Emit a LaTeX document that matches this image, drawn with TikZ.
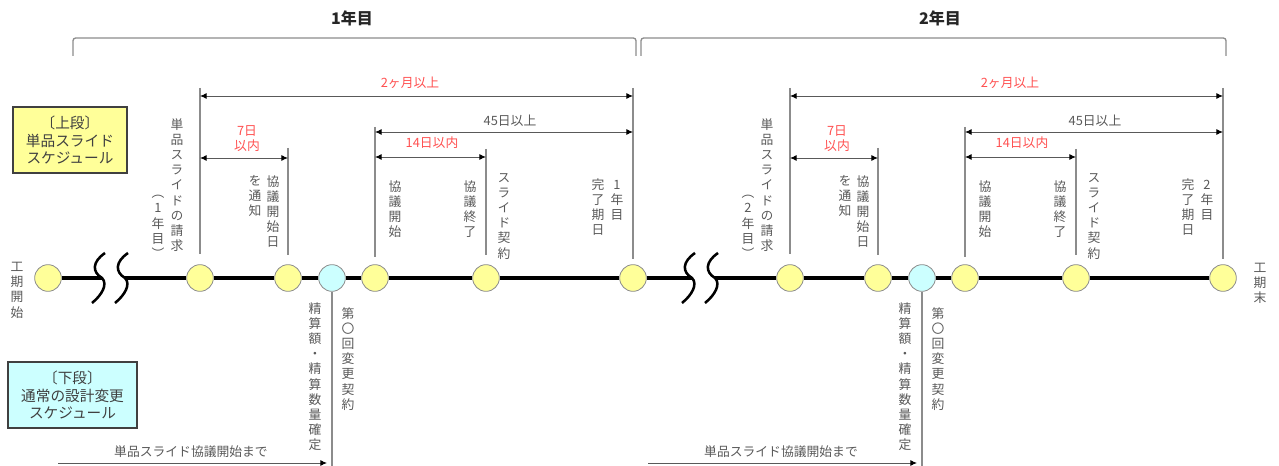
\documentclass[tikz,border=0pt]{standalone}
\usepackage{fontspec}
\setmainfont{Noto Sans CJK JP}
\newfontfamily\jp{Noto Sans CJK JP}
\newfontfamily\vjp[RawFeature=+vert]{Noto Sans CJK JP}
\usetikzlibrary{arrows.meta}
\definecolor{yel}{HTML}{FFFF99}
\definecolor{cya}{HTML}{CCFFFF}
\definecolor{txt}{HTML}{595959}
\definecolor{txtb}{HTML}{404040}
\definecolor{redl}{HTML}{FF5050}
\definecolor{vline}{HTML}{8C8C8C}
\definecolor{dimc}{HTML}{595959}
\definecolor{brkc}{HTML}{8C8C8C}
\ExplSyntaxOn
\NewDocumentCommand\vt{m}{
  \vbox{\baselineskip=11.4pt\relax\lineskiplimit=-100pt\relax\lineskip=0pt\relax
    \tl_map_inline:nn {#1}{\hbox_to_wd:nn {1em}{\hss ##1 \hss}}}
}
\ExplSyntaxOff
\tikzset{
  dot/.style={circle,draw=vline,line width=0.6pt,fill=yel,minimum size=20pt,inner sep=0pt},
  dotc/.style={dot,fill=cya},
  vlab/.style={font=\vjp\fontsize{9.6pt}{11.4pt}\selectfont,text=txt,inner sep=0pt,anchor=north},
  hlab/.style={font=\jp\fontsize{9.6pt}{11.4pt}\selectfont,text=txt,inner sep=0pt},
  rlab/.style={hlab,text=redl},
  vl/.style={draw=vline,line width=0.8pt},
  dimarr/.style={draw=dimc,line width=0.7pt,{Latex[length=5pt,width=4.5pt,black]}-{Latex[length=5pt,width=4.5pt,black]}},
  onearr/.style={draw=dimc,line width=0.7pt,-{Latex[length=5pt,width=4.5pt,black]}},
  tline/.style={draw=black,line width=3pt},
  sq/.style={draw=black,line width=1.9pt},
  brk/.style={draw=brkc,line width=1pt,rounded corners=2pt},
  ttl/.style={font=\jp\bfseries\fontsize{12pt}{14pt}\selectfont,text=black!85,inner sep=0pt},
  boxn/.style={draw=txtb,line width=1.1pt,align=center,font=\jp\fontsize{11pt}{13.4pt}\selectfont,text=txtb,inner sep=0pt,minimum height=49.5pt}
}
\begin{document}
\begin{tikzpicture}[x=0.75pt,y=-0.75pt]
\useasboundingbox (0,0) rectangle (1279,466);
% titles and brackets
\node[ttl] (y1) at (352,18) {1年目};
\node[ttl] (y2) at (940,18) {2年目};
\draw[brk] (73,56) -- (73,38) -- (636,38) -- (636,56);
\draw[brk] (641,56) -- (641,38) -- (1226,38) -- (1226,56);
% legend boxes
\node[boxn,fill=yel,minimum width=85.5pt] (bx1) at (70,140) {〔上段〕\\単品スライド\\スケジュール};
\node[boxn,fill=cya,minimum width=96.75pt] (bx2) at (72.5,395) {〔下段〕\\通常の設計変更\\スケジュール};
% start and end
\node[dot] (s0) at (48,278) {};
\node[vlab] (ls0) at (17,262) {\vt{工期開始}};
\node[vlab] (le) at (1260,263) {\vt{工期末}};
\foreach \yr/\dx/\tx/\ty in {1/0/410/510, 2/590/1010/1095} {
  % squiggles
  \coordinate (q\yr-1) at (\dx+102,278);
  \coordinate (q\yr-2) at (\dx+125,278);
  \draw[sq] (\dx+105,253) .. controls (\dx+92,262) and (\dx+92,272) .. (q\yr-1) .. controls (\dx+108,284) and (\dx+102,295) .. (\dx+92,303);
  \draw[sq] (\dx+128,253) .. controls (\dx+115,262) and (\dx+115,272) .. (q\yr-2) .. controls (\dx+131,284) and (\dx+125,295) .. (\dx+115,303);
  % milestones
  \node[dot] (c\yr-a) at (\dx+200,278) {};
  \node[dot] (c\yr-b) at (\dx+288,278) {};
  \node[dotc] (c\yr-m) at (\dx+332,278) {};
  \node[dot] (c\yr-c) at (\dx+375,278) {};
  \node[dot] (c\yr-d) at (\dx+486,278) {};
  \node[dot] (c\yr-e) at (\dx+633,278) {};
  \draw[tline] (q\yr-2) -- (c\yr-a) -- (c\yr-b) -- (c\yr-m) -- (c\yr-c) -- (c\yr-d) -- (c\yr-e);
  % vertical guide lines
  \coordinate (t\yr-a) at (\dx+200,88);  \coordinate (b\yr-a) at (\dx+200,254);
  \coordinate (t\yr-b) at (\dx+288,148); \coordinate (b\yr-b) at (\dx+288,255);
  \coordinate (t\yr-c) at (\dx+375,127); \coordinate (b\yr-c) at (\dx+375,257);
  \coordinate (t\yr-d) at (\dx+486,149); \coordinate (b\yr-d) at (\dx+486,255);
  \coordinate (t\yr-e) at (\dx+633,88);  \coordinate (b\yr-e) at (\dx+633,259);
  \coordinate (z\yr) at (\dx+332,470);
  \draw[vl] (t\yr-a) -- (b\yr-a);
  \draw[vl] (t\yr-b) -- (b\yr-b);
  \draw[vl] (t\yr-c) -- (b\yr-c);
  \draw[vl] (t\yr-d) -- (b\yr-d);
  \draw[vl] (t\yr-e) -- (b\yr-e);
  \draw[vl] (c\yr-m.south) -- (z\yr);
  % dimension arrows
  \coordinate (p\yr-1) at (\dx+200,96);  \coordinate (p\yr-2) at (\dx+633,96);
  \coordinate (p\yr-3) at (\dx+375,132); \coordinate (p\yr-4) at (\dx+633,132);
  \coordinate (p\yr-5) at (\dx+375,157); \coordinate (p\yr-6) at (\dx+486,157);
  \coordinate (p\yr-7) at (\dx+200,158); \coordinate (p\yr-8) at (\dx+288,158);
  \draw[dimarr] (p\yr-1) -- (p\yr-2);
  \draw[dimarr] (p\yr-3) -- (p\yr-4);
  \draw[dimarr] (p\yr-5) -- (p\yr-6);
  \draw[dimarr] (p\yr-7) -- (p\yr-8);
  \node[rlab] (m\yr-1) at (\tx,83) {2ヶ月以上};
  \node[hlab] (m\yr-2) at (\ty,121) {45日以上};
  \node[rlab] (m\yr-3) at (\dx+432,143) {14日以内};
  \node[rlab,align=center] (m\yr-4) at (\dx+247,138.5) {7日\\以内};
  % vertical labels
  \node[vlab] (v\yr-1) at (\dx+177,118) {\vt{単品スライドの請求}};
  \node[vlab] (v\yr-2) at (\dx+158,195) {\vt{（{\yr}年目）}};
  \node[vlab] (v\yr-3) at (\dx+273,175) {\vt{協議開始日}};
  \node[vlab] (v\yr-4) at (\dx+255,175) {\vt{を通知}};
  \node[vlab] (v\yr-5) at (\dx+395,180) {\vt{協議開始}};
  \node[vlab] (v\yr-6) at (\dx+470,180) {\vt{協議終了}};
  \node[vlab] (v\yr-7) at (\dx+504,173) {\vt{スライド契約}};
  \node[vlab] (v\yr-8) at (\dx+617,180) {\vt{{\yr}年目}};
  \node[vlab] (v\yr-9) at (\dx+598,178) {\vt{完了期日}};
  \node[vlab] (v\yr-10) at (\dx+315,302) {\vt{精算額・精算数量確定}};
  \node[vlab] (v\yr-11) at (\dx+348,307) {\vt{第〇回変更契約}};
  % bottom arrow
  \coordinate (u\yr-1) at (\dx+58,463);
  \coordinate (u\yr-2) at (\dx+327,463);
  \draw[onearr] (u\yr-1) -- (u\yr-2);
  \node[hlab] (w\yr) at (\dx+191,452) {単品スライド協議開始まで};
}
\draw[tline] (s0) -- (q1-1);
\draw[tline] (c1-e) -- (q2-1);
\end{tikzpicture}
\end{document}
